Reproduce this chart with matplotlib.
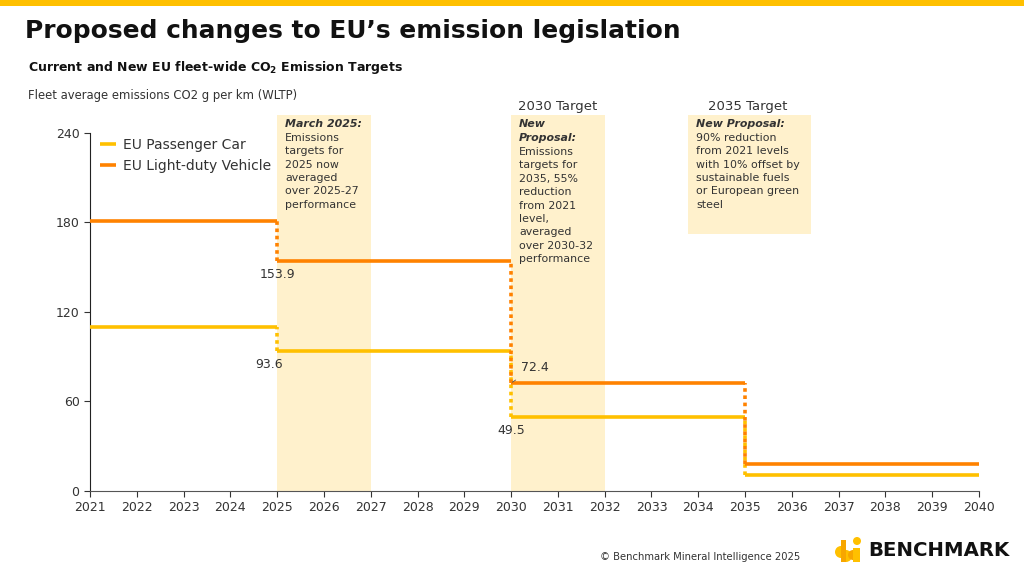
import matplotlib.pyplot as plt
from matplotlib.patches import Rectangle, Circle, Wedge

# Step years and target values (g CO2/km, WLTP)
STEP_YEARS = [2021, 2025, 2030, 2035, 2040]
PASSENGER_CAR = [110.1, 93.6, 49.5, 11.0]
LIGHT_DUTY = [181.1, 153.9, 72.4, 18.1]
SERIES_NAMES = ['EU Passenger Car', 'EU Light-duty Vehicle']
X_TICKS = list(range(2021, 2041))
Y_TICKS = [0, 60, 120, 180, 240]

# shaded periods
SPANS = [(2025, 2027), (2030, 2032)]

YELLOW = '#FFC000'
ORANGE = '#FF8200'
SHADE = '#FFF1CC'
TEXT = '#333333'

plt.rcParams['font.family'] = ['DejaVu Sans']

fig = plt.figure(figsize=(10.24, 5.74), dpi=100)
ax = fig.add_axes([90 / 1024, 1 - 491 / 574, 889 / 1024, 376 / 574])

# top brand bar
fig.add_artist(Rectangle((0, 1 - 6 / 574), 1, 6 / 574, transform=fig.transFigure,
                         color=YELLOW, lw=0))

fig.text(25 / 1024, 1 - 31 / 574, 'Proposed changes to EU\u2019s emission legislation',
         fontsize=17.9, fontweight='bold', va='center', color='#111111')
fig.text(28 / 1024, 1 - 68 / 574, 'Current and New EU fleet-wide CO$_\\mathbf{2}$ Emission Targets',
         fontsize=9, fontweight='bold', va='center', color='#111111')
fig.text(28 / 1024, 1 - 96 / 574, 'Fleet average emissions CO2 g per km (WLTP)',
         fontsize=8.4, va='center', color=TEXT)

# shaded boxes
for x0, x1 in SPANS:
    ax.axvspan(x0, x1, color=SHADE, lw=0, zorder=0)
ax.add_patch(Rectangle((2033.78, 172.3), 2.63, 252 - 172.3, color=SHADE, lw=0, zorder=0))


def draw_steps(values, color, label):
    for i, v in enumerate(values):
        ax.hlines(v, STEP_YEARS[i], STEP_YEARS[i + 1], color=color, lw=2.6, zorder=3,
                  label=label if i == 0 else None)
        if i < len(values) - 1:
            ax.vlines(STEP_YEARS[i + 1], values[i + 1], v, color=color, lw=2.6,
                      linestyles=(0, (1, 1)), zorder=3)


draw_steps(PASSENGER_CAR, YELLOW, SERIES_NAMES[0])
draw_steps(LIGHT_DUTY, ORANGE, SERIES_NAMES[1])

# value labels
lab_kw = dict(fontsize=9, color=TEXT, ha='center', va='top')
ax.annotate(f'{LIGHT_DUTY[1]}', (2025, LIGHT_DUTY[1]), xytext=(0, -5),
            textcoords='offset points', **lab_kw)
ax.annotate(f'{PASSENGER_CAR[1]}', (2025, PASSENGER_CAR[1]), xytext=(-6, -5),
            textcoords='offset points', **lab_kw)
ax.annotate(f'{PASSENGER_CAR[2]}', (2030, PASSENGER_CAR[2]), xytext=(0, -5),
            textcoords='offset points', **lab_kw)
ax.annotate(f'{LIGHT_DUTY[2]}', (2030, LIGHT_DUTY[2]), xytext=(17, 11),
            textcoords='offset points', fontsize=9, color=TEXT, ha='center', va='center',
            arrowprops=dict(arrowstyle='-', color='#555555', lw=0.6, shrinkA=4, shrinkB=1))

# annotation boxes
box_kw = dict(fontsize=7.9, color=TEXT, va='top', linespacing=1.42)
ax.text(2025.17, 249, 'March 2025:', fontweight='bold', style='italic', **box_kw)
ax.text(2025.17, 240, 'Emissions\ntargets for\n2025 now\naveraged\nover 2025-27\nperformance', **box_kw)
ax.text(2030.17, 249, 'New\nProposal:', fontweight='bold', style='italic', **box_kw)
ax.text(2030.17, 230.5, 'Emissions\ntargets for\n2035, 55%\nreduction\nfrom 2021\nlevel,\naveraged\nover 2030-32\nperformance', **box_kw)
ax.text(2033.95, 249, 'New Proposal:', fontweight='bold', style='italic', **box_kw)
ax.text(2033.95, 240, '90% reduction\nfrom 2021 levels\nwith 10% offset by\nsustainable fuels\nor European green\nsteel', **box_kw)

ax.text(2031, 258, '2030 Target', fontsize=9.5, color=TEXT, ha='center', va='center', clip_on=False)
ax.text(2035.05, 258, '2035 Target', fontsize=9.5, color=TEXT, ha='center', va='center', clip_on=False)

# axes styling
ax.set_xlim(2021, 2040)
ax.set_ylim(0, 252)
ax.set_xticks(X_TICKS)
ax.set_yticks(Y_TICKS)
ax.tick_params(labelsize=9, colors=TEXT, length=4, width=0.8)
for s in ['top', 'right']:
    ax.spines[s].set_visible(False)
ax.spines['left'].set_bounds(0, 240)
ax.spines['left'].set_color('#222222')
ax.spines['bottom'].set_color('#555555')

leg = ax.legend(loc='upper left', bbox_to_anchor=(0.0, 0.965), frameon=False, fontsize=10,
                handlelength=1.2, handletextpad=0.5, labelspacing=0.5, borderaxespad=0.3)
for t in leg.get_texts():
    t.set_color(TEXT)

# footer
fig.text(600 / 1024, 1 - 557 / 574, '\u00a9 Benchmark Mineral Intelligence 2025',
         fontsize=7.2, color=TEXT, va='center')
fig.text(868 / 1024, 1 - 551 / 574, 'BENCHMARK', fontsize=14.2, fontweight='bold',
         color='#111111', va='center')

# small logo mark
logo_ax = fig.add_axes([834 / 1024, 1 - 564 / 574, 32 / 1024, 30 / 574])
logo_ax.set_xlim(0, 32)
logo_ax.set_ylim(0, 30)
logo_ax.set_aspect('equal')
logo_ax.axis('off')
logo_ax.add_patch(Rectangle((7, 2), 5, 22, color='#F7A600', lw=0))
logo_ax.add_patch(Wedge((7, 12), 6, 90, 270, color=YELLOW, lw=0))
logo_ax.add_patch(Wedge((12, 8), 6, 270, 450, color=YELLOW, lw=0))
logo_ax.add_patch(Rectangle((19, 2), 7, 14, color=YELLOW, lw=0))
logo_ax.add_patch(Wedge((19, 9), 5, 90, 270, color='#F7A600', lw=0))
logo_ax.add_patch(Circle((23, 23), 4, color=YELLOW, lw=0))

fig.savefig('out.png', dpi=100)
